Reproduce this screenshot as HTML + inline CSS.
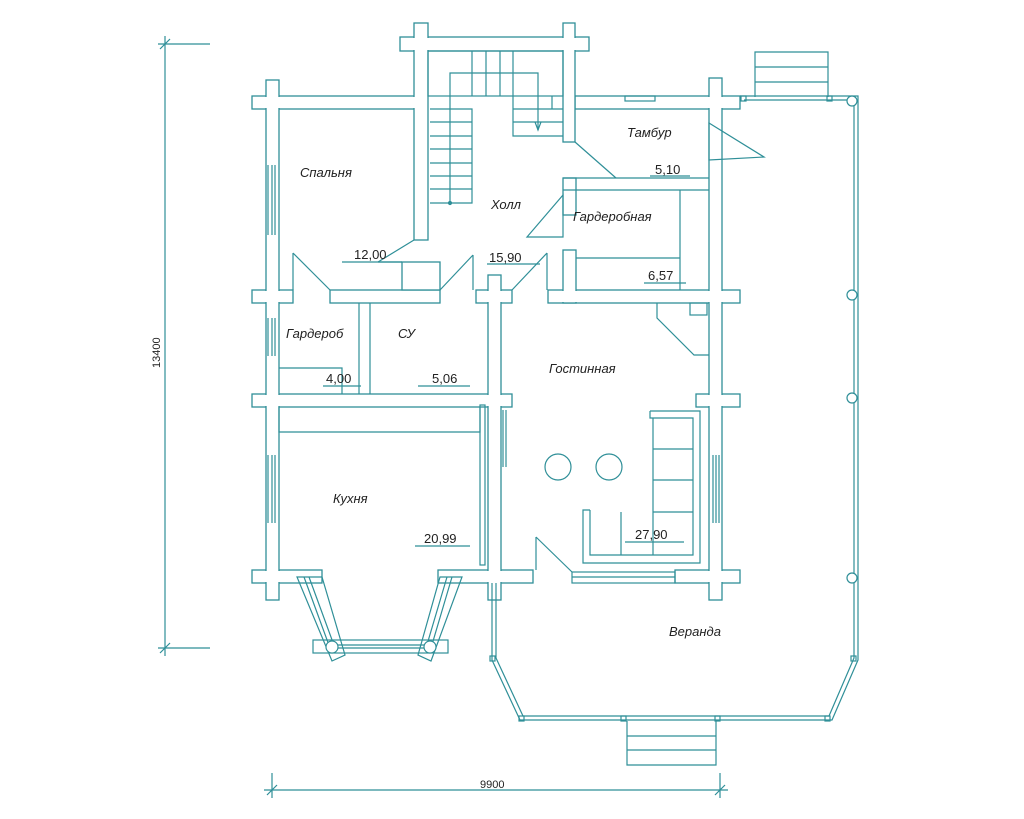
<!DOCTYPE html>
<html><head><meta charset="utf-8"><style>
html,body{margin:0;padding:0;background:#fff}
svg{display:block}
text{font-family:"Liberation Sans","DejaVu Sans",sans-serif;fill:#222;font-size:13px;font-style:italic}
</style></head><body>
<svg width="1024" height="819" viewBox="0 0 1024 819" xmlns="http://www.w3.org/2000/svg">
<g id="walls" stroke="#2f8f98" stroke-width="1.3" fill="#fff">
<!-- outlines -->
<g>
<rect x="400" y="37" width="189" height="14"/>
<rect x="252" y="96" width="164" height="13"/>
<rect x="575" y="96" width="165" height="13"/>
<rect x="252" y="290" width="41" height="13"/>
<rect x="330" y="290" width="110" height="13"/>
<rect x="476" y="290" width="36" height="13"/>
<rect x="548" y="290" width="192" height="13"/>
<rect x="252" y="394" width="260" height="13"/>
<rect x="696" y="394" width="44" height="13"/>
<rect x="252" y="570" width="70" height="13"/>
<rect x="438" y="570" width="95" height="13"/>
<rect x="675" y="570" width="65" height="13"/>
<rect x="266" y="80" width="13" height="520"/>
<rect x="414" y="23" width="14" height="217"/>
<rect x="563" y="23" width="12" height="119"/>
<rect x="709" y="78" width="13" height="522"/>
<rect x="488" y="275" width="13" height="325"/>
<rect x="563" y="178" width="13" height="37"/>
<rect x="563" y="250" width="13" height="53"/>
<rect x="402" y="262" width="38" height="28"/>
</g>
</g>
<g fill="#fff" stroke="none">
<rect x="401" y="38" width="187" height="12"/>
<rect x="253" y="97" width="162" height="11"/>
<rect x="576" y="97" width="163" height="11"/>
<rect x="253" y="291" width="39" height="11"/>
<rect x="331" y="291" width="108" height="11"/>
<rect x="477" y="291" width="34" height="11"/>
<rect x="549" y="291" width="190" height="11"/>
<rect x="253" y="395" width="258" height="11"/>
<rect x="697" y="395" width="42" height="11"/>
<rect x="253" y="571" width="68" height="11"/>
<rect x="439" y="571" width="93" height="11"/>
<rect x="676" y="571" width="63" height="11"/>
<rect x="267" y="81" width="11" height="518"/>
<rect x="415" y="24" width="12" height="215"/>
<rect x="564" y="24" width="10" height="117"/>
<rect x="710" y="79" width="11" height="520"/>
<rect x="489" y="276" width="11" height="323"/>
<rect x="564" y="179" width="11" height="35"/>
<rect x="564" y="251" width="11" height="51"/>
</g>
<g stroke="#2f8f98" stroke-width="1.2" fill="none">
<!-- stair -->
<rect x="428" y="51" width="135" height="45"/>
<line x1="472" y1="51" x2="472" y2="96"/><line x1="486" y1="51" x2="486" y2="96"/><line x1="500" y1="51" x2="500" y2="96"/><line x1="513" y1="51" x2="513" y2="96"/>
<polyline points="450,203 450,73 538,73 538,130"/>
<path d="M430 109 H472 V203 H430 M430 122H472 M430 136H472 M430 149H472 M430 163H472 M430 176H472 M430 189H472"/>
<path d="M513 96 V136 H563 M513 109H563 M513 122H563 M552 96 V109"/>
<path d="M535 122 L538 130 L541 122"/>
<circle cx="450" cy="203" r="1.5" fill="#2f8f98"/>
<!-- doors -->
<line x1="414" y1="240" x2="378" y2="262"/><line x1="378" y1="262" x2="402" y2="262"/>
<line x1="293" y1="253" x2="330" y2="290"/><line x1="293" y1="253" x2="293" y2="290"/>
<line x1="440" y1="290" x2="473" y2="255"/><line x1="473" y1="255" x2="473" y2="290"/>
<line x1="512" y1="290" x2="547" y2="253"/><line x1="547" y1="253" x2="547" y2="290"/>
<line x1="575" y1="142" x2="616" y2="178"/>
<path d="M563 178 H709 M575 190 H709 M563 190 H575"/>
<polygon points="709,123 764,157 709,160"/>
<polygon points="563,195 527,237 563,237"/>
<path d="M576 258 H680 V290 M680 190 V258"/>
<line x1="536" y1="537" x2="572" y2="572"/><line x1="536" y1="537" x2="536" y2="570"/>
<!-- gardero b / SU -->
<path d="M370 303 V394 M359 303 V394 M279 368 H342 V394"/>
<!-- kitchen counter -->
<path d="M279 407 V432 H480 V407"/>
<rect x="480" y="405" width="5" height="160"/>
<!-- living -->
<polyline points="657,303 657,318 694,355 709,355"/>
<rect x="690" y="303" width="17" height="12"/>
<path d="M650 411 H700 V563 H583 V510 H590"/>
<path d="M650 411 V418 H693 V555 H590 V510 M653 418 V555 M653 449 H693 M653 480 H693 M653 512 H693 M621 512 V555"/>
<circle cx="558" cy="467" r="13"/><circle cx="609" cy="467" r="13"/>
<rect x="572" y="572" width="103" height="11"/><line x1="572" y1="577" x2="675" y2="577"/>
<!-- windows -->
<path d="M268 165 V235 M272 165 V235 M275 165 V235"/>
<path d="M268 318 V356 M272 318 V356 M275 318 V356"/>
<path d="M268 455 V523 M272 455 V523 M275 455 V523"/>
<path d="M713 455 V523 M716 455 V523 M719 455 V523"/>
<path d="M503 410 V467 M506 410 V467"/>
<rect x="625" y="96" width="30" height="5"/>
<!-- bay -->
<rect x="313" y="640" width="135" height="13"/>
<polygon points="297,577 322,577 345,655 332,661"/>
<line x1="304" y1="577" x2="330" y2="648"/><line x1="309" y1="577" x2="335" y2="648"/>
<polygon points="440,577 462,577 431,661 418,655"/>
<line x1="447" y1="577" x2="426" y2="648"/><line x1="452" y1="577" x2="431" y2="648"/>
<line x1="332" y1="645" x2="430" y2="645"/><line x1="332" y1="648" x2="430" y2="648"/>
<circle cx="332" cy="647" r="6" fill="#fff"/><circle cx="430" cy="647" r="6" fill="#fff"/>
<!-- veranda -->
<path d="M740 96 H858 V660 L832 720 H520 L492 660 V583"/>
<path d="M744 100 H854 V658 L829 716 H523 L496 658 V583"/>
<circle cx="852" cy="101" r="5" fill="#fff"/><circle cx="852" cy="295" r="5" fill="#fff"/><circle cx="852" cy="398" r="5" fill="#fff"/><circle cx="852" cy="578" r="5" fill="#fff"/>
<rect x="827" y="96" width="5" height="5"/><rect x="741" y="96" width="5" height="5"/>
<rect x="621" y="716" width="5" height="5"/><rect x="715" y="716" width="5" height="5"/>
<rect x="825" y="716" width="5" height="5"/><rect x="519" y="716" width="5" height="5"/>
<rect x="490" y="656" width="5" height="5"/><rect x="851" y="656" width="5" height="5"/>
<path d="M755 97 V52 H828 V97 M755 67H828 M755 82H828"/>
<path d="M627 721 V765 H716 V721 M627 736H716 M627 750H716"/>
<!-- dimensions -->
<line x1="165" y1="36" x2="165" y2="656"/>
<line x1="158" y1="44" x2="210" y2="44"/><line x1="158" y1="648" x2="210" y2="648"/>
<line x1="160" y1="49" x2="170" y2="39"/><line x1="160" y1="653" x2="170" y2="643"/>
<line x1="264" y1="790" x2="728" y2="790"/>
<line x1="272" y1="773" x2="272" y2="798"/><line x1="720" y1="773" x2="720" y2="798"/>
<line x1="267" y1="795" x2="277" y2="785"/><line x1="715" y1="795" x2="725" y2="785"/>
<!-- area underlines -->
<path d="M342 262H402 M487 264H540 M650 176H690 M644 283H686 M323 386H361 M418 386H470 M415 546H470 M625 542H684"/>
</g>
<g>
<text x="300" y="177">Спальня</text>
<text x="491" y="209">Холл</text>
<text x="627" y="137">Тамбур</text>
<text x="573" y="221">Гардеробная</text>
<text x="286" y="338">Гардероб</text>
<text x="398" y="338">СУ</text>
<text x="549" y="373">Гостинная</text>
<text x="333" y="503">Кухня</text>
<text x="669" y="636">Веранда</text>
<g style="font-style:normal;font-size:13px">
<text x="354" y="259" style="font-style:normal">12,00</text>
<text x="489" y="262" style="font-style:normal">15,90</text>
<text x="655" y="174" style="font-style:normal">5,10</text>
<text x="648" y="280" style="font-style:normal">6,57</text>
<text x="326" y="383" style="font-style:normal">4,00</text>
<text x="432" y="383" style="font-style:normal">5,06</text>
<text x="424" y="543" style="font-style:normal">20,99</text>
<text x="635" y="539" style="font-style:normal">27,90</text>
<text x="480" y="788" style="font-style:normal;font-size:11px">9900</text>
<text x="160" y="368" transform="rotate(-90 160 368)" style="font-style:normal;font-size:11px">13400</text>
</g>
</g>
</svg>
</body></html>
